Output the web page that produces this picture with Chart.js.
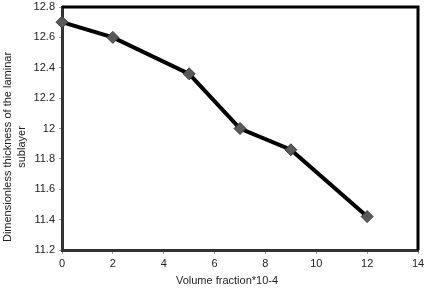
<!DOCTYPE html>
<html>
<head>
<meta charset="utf-8">
<script src="https://cdn.jsdelivr.net/npm/chart.js@4/dist/chart.umd.min.js"></script>
<style>
  html, body { margin: 0; padding: 0; background: #fff; }
  #wrap { width: 434px; height: 295px; }
</style>
</head>
<body>
<div id="wrap"><canvas id="grafico"></canvas></div>
<script>
// datos
const volumeFraction = [0, 2, 5, 7, 9, 12];
const thickness = [12.7, 12.6, 12.36, 12.0, 11.86, 11.42];
const xTicks = [0, 2, 4, 6, 8, 10, 12, 14];
const yTicks = [11.2, 11.4, 11.6, 11.8, 12, 12.2, 12.4, 12.6, 12.8];

const yTitle = ["Dimensionless thickness of the laminar", "sublayer"];
const xTitle = "Volume fraction*10-4";

const fuente = "'Liberation Sans', Arial, sans-serif";

// marco negro arriba/derecha + titulos de ejes
const marcoYTitulos = {
    id: 'marcoYTitulos',
    afterDraw(chart) {
        const { ctx, chartArea: a } = chart;
        ctx.save();
        ctx.strokeStyle = '#000';
        ctx.lineWidth = 3;
        ctx.beginPath();
        ctx.moveTo(a.left, a.top);
        ctx.lineTo(a.right, a.top);
        ctx.lineTo(a.right, a.bottom);
        ctx.stroke();

        ctx.fillStyle = '#222';
        ctx.font = '11px ' + fuente;
        ctx.textAlign = 'center';
        ctx.textBaseline = 'middle';
        ctx.fillText(xTitle, 227, 281);

        ctx.translate(8, 147);
        ctx.rotate(-Math.PI / 2);
        ctx.fillText(yTitle[0], 0, 0);
        ctx.fillText(yTitle[1], 0, 14);
        ctx.restore();
    }
};

new Chart(document.getElementById('grafico').getContext('2d'), {
    type: 'scatter',
    data: {
        datasets: [{
            data: volumeFraction.map((v, i) => ({ x: v, y: thickness[i] })),
            showLine: true,
            clip: false,
            borderColor: '#000',
            borderWidth: 4,
            pointStyle: 'rectRot',
            pointRadius: 6,
            pointBackgroundColor: '#595959',
            pointBorderColor: '#3a3a3a',
            pointBorderWidth: 1,
        }]
    },
    options: {
        responsive: true,
        maintainAspectRatio: false,
        animation: false,
        layout: { padding: { top: 0, right: 16, left: 0, bottom: 0 } },
        plugins: { legend: { display: false }, tooltip: { enabled: false } },
        scales: {
            x: {
                min: 0, max: 14,
                afterFit: (s) => { s.height = 45; s.paddingRight = 0; },
                afterBuildTicks: (s) => { s.ticks = xTicks.map(v => ({ value: v })); },
                grid: { drawOnChartArea: false, tickLength: 4, color: '#999' },
                border: { color: '#333', width: 3 },
                ticks: { color: '#222', font: { family: fuente, size: 11 }, padding: 3, maxRotation: 0 }
            },
            y: {
                min: 11.2, max: 12.8,
                afterFit: (s) => { s.width = 62; s.paddingTop = 5; s.paddingBottom = 0; },
                afterBuildTicks: (s) => { s.ticks = yTicks.map(v => ({ value: v })); },
                grid: { drawOnChartArea: false, tickLength: 3, color: '#999' },
                border: { color: '#333', width: 3 },
                ticks: { color: '#222', font: { family: fuente, size: 11 }, padding: 4,
                         callback: (v) => String(Math.round(v * 10) / 10) }
            }
        }
    },
    plugins: [marcoYTitulos]
});
</script>
</body>
</html>
